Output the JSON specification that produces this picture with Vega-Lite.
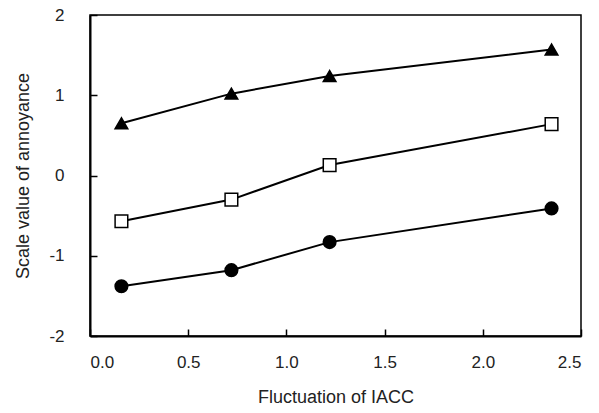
{
  "$schema": "https://vega.github.io/schema/vega-lite/v6.json",
  "width": 491,
  "height": 321,
  "autosize": {"type": "none"},
  "padding": {"left": 90, "top": 15, "right": 18, "bottom": 77},
  "background": "white",
  "config": {
    "view": {"stroke": "black", "strokeWidth": 1.5},
    "axis": {
      "grid": false,
      "tickSize": -7,
      "tickColor": "black",
      "tickWidth": 1.5,
      "domainColor": "black",
      "domainWidth": 2,
      "labelFont": "Liberation Sans",
      "labelFontSize": 17,
      "labelColor": "#222",
      "titleFont": "Liberation Sans",
      "titleFontSize": 18,
      "titleFontWeight": "normal",
      "titleColor": "#222"
    }
  },
  "data": {
    "values": [
      {"iacc": 0.16, "annoyance": 0.65, "series": "A"},
      {"iacc": 0.72, "annoyance": 1.02, "series": "A"},
      {"iacc": 1.22, "annoyance": 1.24, "series": "A"},
      {"iacc": 2.35, "annoyance": 1.57, "series": "A"},
      {"iacc": 0.16, "annoyance": -0.57, "series": "B"},
      {"iacc": 0.72, "annoyance": -0.3, "series": "B"},
      {"iacc": 1.22, "annoyance": 0.13, "series": "B"},
      {"iacc": 2.35, "annoyance": 0.64, "series": "B"},
      {"iacc": 0.16, "annoyance": -1.38, "series": "C"},
      {"iacc": 0.72, "annoyance": -1.18, "series": "C"},
      {"iacc": 1.22, "annoyance": -0.83, "series": "C"},
      {"iacc": 2.35, "annoyance": -0.41, "series": "C"}
    ]
  },
  "encoding": {
    "x": {
      "field": "iacc",
      "type": "quantitative",
      "scale": {"domain": [0, 2.5], "nice": false, "zero": false},
      "axis": {"values": [0, 0.5, 1, 1.5, 2, 2.5], "format": ".1f", "title": "Fluctuation of IACC", "labelPadding": 25, "titlePadding": 18}
    },
    "y": {
      "field": "annoyance",
      "type": "quantitative",
      "scale": {"domain": [-2, 2], "nice": false, "zero": false},
      "axis": {"values": [-2, -1, 0, 1, 2], "labelExpr": "datum.value + ''", "title": "Scale value of annoyance", "labelPadding": 33, "titlePadding": 16}
    }
  },
  "layer": [
    {
      "mark": {"type": "line", "color": "black", "strokeWidth": 2},
      "encoding": {"detail": {"field": "series"}}
    },
    {
      "mark": {"type": "point", "filled": true, "stroke": "black", "strokeWidth": 1.5, "opacity": 1},
      "encoding": {
        "shape": {"field": "series", "type": "nominal", "scale": {"domain": ["A", "B", "C"], "range": ["triangle-up", "square", "circle"]}, "legend": null},
        "fill": {"field": "series", "type": "nominal", "scale": {"domain": ["A", "B", "C"], "range": ["black", "white", "black"]}, "legend": null},
        "size": {"value": 160}
      }
    }
  ]
}
